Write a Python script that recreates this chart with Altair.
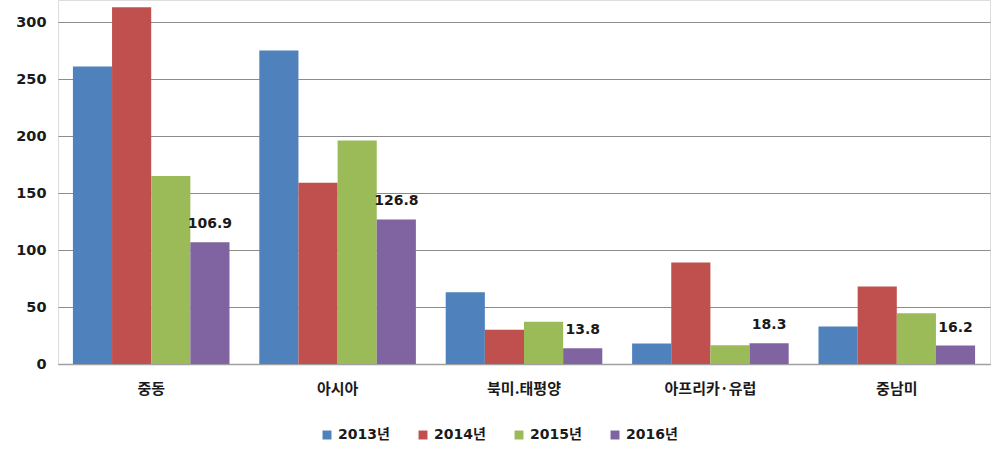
import altair as alt
import pandas as pd

regions = ["중동", "아시아", "북미.태평양", "아프리카·유럽", "중남미"]
years = ["2013년", "2014년", "2015년", "2016년"]
v2013 = [261, 275, 63, 18, 33]
v2014 = [313, 159, 30, 89, 68]
v2015 = [165, 196, 37, 16.5, 44.5]
v2016 = [106.9, 126.8, 13.8, 18.3, 16.2]
colors = ["#4F81BD", "#C0504D", "#9BBB59", "#8064A2"]

rows = []
for yr, vals in zip(years, [v2013, v2014, v2015, v2016]):
    for r, v in zip(regions, vals):
        rows.append({"region": r, "year": yr, "value": v,
                     "label": f"{v}" if yr == "2016년" else ""})
df = pd.DataFrame(rows)

FONT = "'DejaVu Sans', 'Noto Sans CJK KR'"

x = alt.X("region:N", sort=regions, title=None,
          scale=alt.Scale(paddingInner=0.16, paddingOuter=0.08),
          axis=alt.Axis(labelAngle=0, labelFontSize=15, labelFont="Noto Sans CJK KR",
                        labelFontWeight="bold", labelColor="#1a1a1a", labelPadding=17,
                        ticks=False, domainColor="#a0a0a0", domainWidth=1.5))
y = alt.Y("value:Q", title=None,
          scale=alt.Scale(domain=[0, 319.3], nice=False),
          axis=alt.Axis(values=[0, 50, 100, 150, 200, 250, 300], labelFontSize=14.5,
                        labelFont=FONT, labelFontWeight="bold", labelColor="#1a1a1a",
                        labelPadding=12, ticks=False, domain=False,
                        gridColor="#8c8c8c", gridWidth=1))

bars = alt.Chart(df).mark_bar().encode(
    x=x, y=y,
    xOffset=alt.XOffset("year:N", sort=years, scale=alt.Scale(paddingInner=0)),
    color=alt.Color("year:N", sort=years,
                    scale=alt.Scale(domain=years, range=colors),
                    legend=alt.Legend(title=None, orient="none", direction="horizontal",
                                      legendX=262, legendY=428, symbolType="square",
                                      symbolSize=80, symbolStrokeWidth=0,
                                      labelFontSize=14, labelFont=FONT,
                                      labelFontWeight="bold", labelColor="#1a1a1a",
                                      columnPadding=26, labelOffset=4)),
)

text = alt.Chart(df).mark_text(dy=-18, fontSize=14, font=FONT, fontWeight="bold",
                               color="#1a1a1a").encode(
    x=alt.X("region:N", sort=regions),
    xOffset=alt.XOffset("year:N", sort=years),
    y="value:Q",
    text="label:N",
)

chart = (bars + text).properties(
    width=932, height=364,
    padding={"left": 58, "top": 0, "right": 6, "bottom": 85},
    autosize=alt.AutoSizeParams(type="none"),
).configure_view(stroke=None).configure(background="white")

chart.save("out.html", embed_options={"renderer": "svg", "actions": False})
